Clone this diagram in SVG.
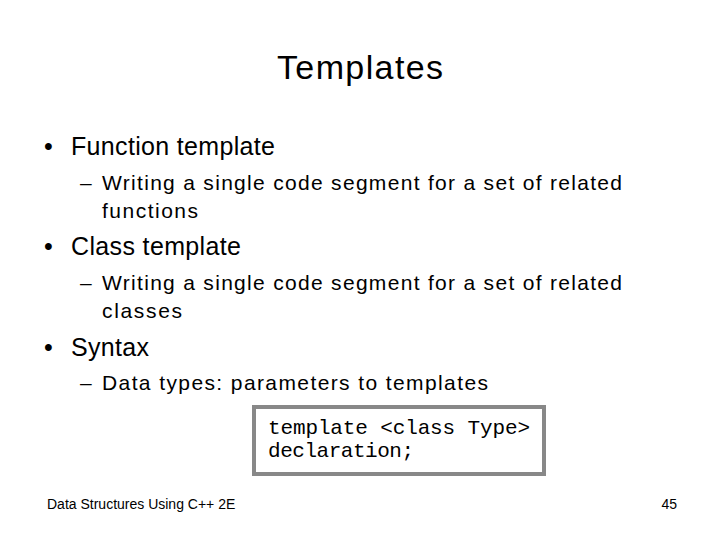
<svg xmlns="http://www.w3.org/2000/svg" width="720" height="540" viewBox="0 0 720 540">
<style>
text{font-family:"Liberation Sans",Arial,sans-serif;fill:#000}
.l1{font-size:25px}.l2{font-size:21px}.m{font-family:"Liberation Mono","Courier New",monospace;font-size:21px}
</style>
<rect width="720" height="540" fill="#fff"/>
<text x="360" y="79" font-size="34" text-anchor="middle" textLength="166">Templates</text>
<text x="44" y="155" class="l1">•</text><text x="71" y="155" class="l1" textLength="204">Function template</text>
<text x="80" y="190" class="l2">–</text><text x="102" y="190" class="l2" textLength="520">Writing a single code segment for a set of related</text>
<text x="102" y="218" class="l2" textLength="96">functions</text>
<text x="44" y="255" class="l1">•</text><text x="71" y="255" class="l1" textLength="170">Class template</text>
<text x="80" y="290" class="l2">–</text><text x="102" y="290" class="l2" textLength="520">Writing a single code segment for a set of related</text>
<text x="102" y="318" class="l2" textLength="80">classes</text>
<text x="44" y="356" class="l1">•</text><text x="71" y="356" class="l1" textLength="78">Syntax</text>
<text x="80" y="390" class="l2">–</text><text x="102" y="390" class="l2" textLength="386">Data types: parameters to templates</text>
<rect x="254" y="407" width="290" height="67" fill="#fff" stroke="#888" stroke-width="4"/>
<text x="268" y="434" class="m" textLength="262">template &lt;class Type&gt;</text>
<text x="268" y="457" class="m" textLength="146">declaration;</text>
<text x="47" y="509" font-size="14">Data Structures Using C++ 2E</text>
<text x="677" y="509" font-size="14" text-anchor="end">45</text>
</svg>
